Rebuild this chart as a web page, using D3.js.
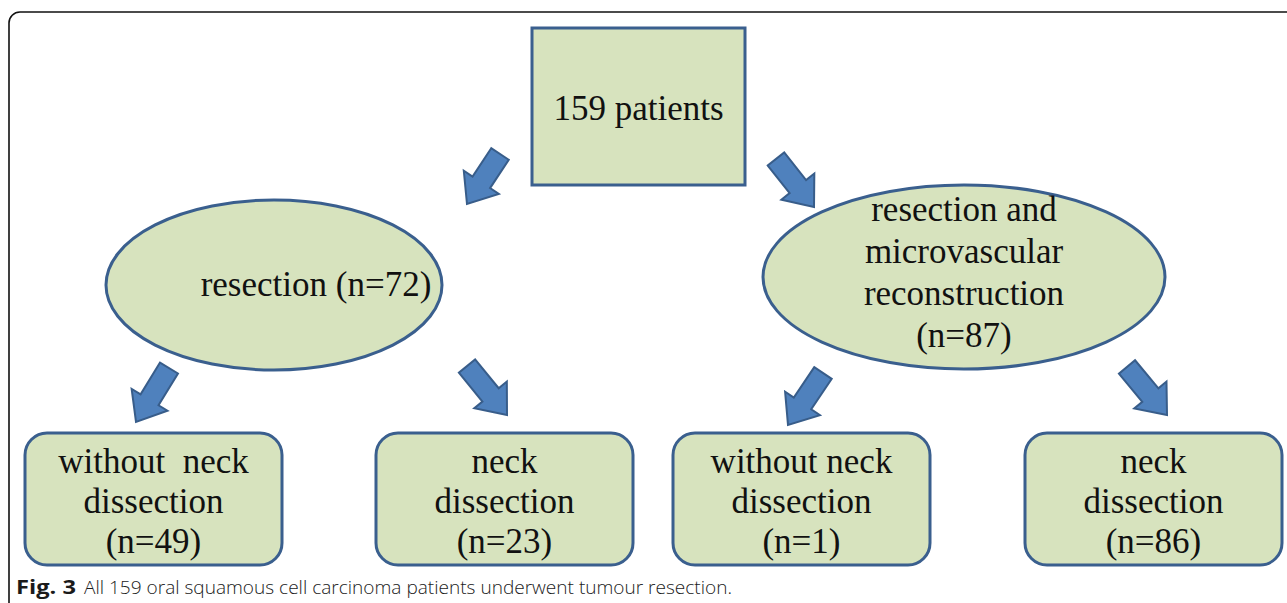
<!DOCTYPE html>
<html>
<head>
<meta charset="utf-8">
<script src="https://cdn.jsdelivr.net/npm/d3@7"></script>
<style>
  body { margin: 0; background: #fff; }
  text { white-space: pre; }
</style>
</head>
<body>
<div id="chart-area"></div>
<script>
// flowchart content
var rootLines = ['159 patients'];
var branchLines = [
	['resection (n=72)'],
	['resection and', 'microvascular', 'reconstruction', '(n=87)']
];
var leafLines = [
	['without  neck', 'dissection', '(n=49)'],
	['neck', 'dissection', '(n=23)'],
	['without neck', 'dissection', '(n=1)'],
	['neck', 'dissection', '(n=86)']
];
var captionBold = 'Fig. 3';
var captionText = 'All 159 oral squamous cell carcinoma patients underwent tumour resection.';

var width = 1287, height = 603;
var fillGreen = '#d7e3be', strokeBlue = '#3a5f8e';
var arrowFill = '#4f81bd', arrowStroke = '#385d8a';
var serif = '"Liberation Serif", "Times New Roman", serif';

var svg = d3.select('#chart-area').append('svg')
	.attr('width', width)
	.attr('height', height);

// outer frame (only top/left visible)
svg.append('rect')
	.attr('x', 9).attr('y', 12)
	.attr('width', 1400).attr('height', 700)
	.attr('rx', 11)
	.attr('fill', 'none')
	.attr('stroke', '#111')
	.attr('stroke-width', 1.6);

// layout
var rootBox = { x: 532, y: 28, w: 213, h: 157, cy: 120 };
var branches = [
	{ cx: 274, cy: 285, rx: 168, ry: 85, tx: 316, y0: 296 },
	{ cx: 964, cy: 277, rx: 201, ry: 92, tx: 964, y0: 221 }
];
var leafX = [25, 376, 673, 1025];
var leafW = 257, leafY = 433, leafH = 132;
var lineH = 42;

var arrows = [
	{ from: [500, 154], to: [467, 204] },
	{ from: [776, 159], to: [814, 207] },
	{ from: [169, 368], to: [136, 422] },
	{ from: [467, 366], to: [507, 415] },
	{ from: [823, 373], to: [788, 425] },
	{ from: [1127, 367], to: [1167, 415] }
];

function arrowPath(a) {
	var dx = a.to[0] - a.from[0], dy = a.to[1] - a.from[1];
	var L = Math.sqrt(dx * dx + dy * dy);
	var ux = dx / L, uy = dy / L, nx = -uy, ny = ux;
	var sw = 10.5, hw = 21, hl = 26;
	var bx = a.from[0] + ux * (L - hl), by = a.from[1] + uy * (L - hl);
	var pts = [
		[a.from[0] + nx * sw, a.from[1] + ny * sw],
		[bx + nx * sw, by + ny * sw],
		[bx + nx * hw, by + ny * hw],
		a.to,
		[bx - nx * hw, by - ny * hw],
		[bx - nx * sw, by - ny * sw],
		[a.from[0] - nx * sw, a.from[1] - ny * sw]
	];
	return d3.line()(pts) + 'Z';
}

svg.selectAll('path.arrow').data(arrows).enter()
	.append('path')
	.attr('class', 'arrow')
	.attr('d', arrowPath)
	.attr('fill', arrowFill)
	.attr('stroke', arrowStroke)
	.attr('stroke-width', 2)
	.attr('stroke-linejoin', 'miter');

// root box
svg.append('rect')
	.attr('x', rootBox.x).attr('y', rootBox.y)
	.attr('width', rootBox.w).attr('height', rootBox.h)
	.attr('fill', fillGreen)
	.attr('stroke', strokeBlue)
	.attr('stroke-width', 3);

svg.append('text')
	.attr('x', rootBox.x + rootBox.w / 2)
	.attr('y', rootBox.cy)
	.attr('text-anchor', 'middle')
	.attr('font-family', serif)
	.attr('font-size', '35px')
	.attr('fill', '#111')
	.text(rootLines[0]);

// branch ellipses
branches.forEach((b, i) => {
	svg.append('ellipse')
		.attr('cx', b.cx).attr('cy', b.cy)
		.attr('rx', b.rx).attr('ry', b.ry)
		.attr('fill', fillGreen)
		.attr('stroke', strokeBlue)
		.attr('stroke-width', 3);

	svg.selectAll('text.branch' + i).data(branchLines[i]).enter()
		.append('text')
		.attr('class', 'branch' + i)
		.attr('x', b.tx)
		.attr('y', (d, j) => b.y0 + j * lineH)
		.attr('text-anchor', 'middle')
		.attr('font-family', serif)
		.attr('font-size', '35px')
		.attr('fill', '#111')
		.text(d => d);
});

// leaf boxes
leafLines.forEach((lines, i) => {
	var x0 = leafX[i];
	svg.append('rect')
		.attr('x', x0).attr('y', leafY)
		.attr('width', leafW).attr('height', leafH)
		.attr('rx', 22)
		.attr('fill', fillGreen)
		.attr('stroke', strokeBlue)
		.attr('stroke-width', 3);

	svg.selectAll('text.leaf' + i).data(lines).enter()
		.append('text')
		.attr('class', 'leaf' + i)
		.attr('x', x0 + leafW / 2)
		.attr('y', (d, j) => 473 + j * 40)
		.attr('text-anchor', 'middle')
		.attr('font-family', serif)
		.attr('font-size', '35px')
		.attr('fill', '#111')
		.text(d => d);
});

// caption
var cap = svg.append('text')
	.attr('x', 16)
	.attr('y', 594)
	.attr('font-family', '"Open Sans", "Noto Sans", sans-serif')
	.attr('font-size', '19px')
	.attr('fill', '#1a1a1a');

cap.append('tspan')
	.attr('font-weight', 'bold')
	.attr('textLength', 60)
	.attr('lengthAdjust', 'spacingAndGlyphs')
	.text(captionBold);

cap.append('tspan')
	.attr('x', 84)
	.attr('font-weight', 300)
	.attr('textLength', 648)
	.attr('lengthAdjust', 'spacingAndGlyphs')
	.text(captionText);
</script>
</body>
</html>
